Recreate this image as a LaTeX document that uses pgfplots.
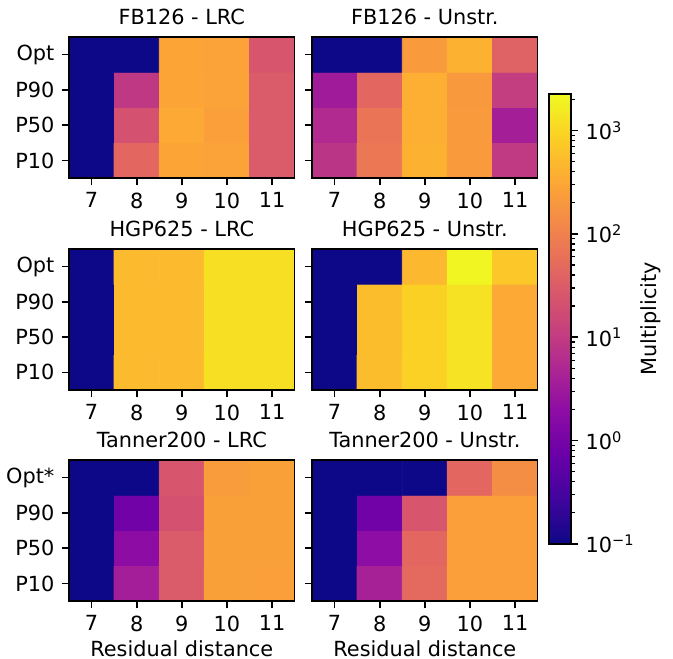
\documentclass[border=0pt]{standalone}
\usepackage{fontspec}
\setmainfont{DejaVu Sans}
\usepackage{pgfplots}
\usepackage{pgfplotstable}
\pgfplotsset{compat=1.18}

% multiplicity per cell: x = residual distance, y = 0 P10, 1 P50, 2 P90, 3 Opt
\pgfplotstableread{
x y m
7 0 0.1
8 0 45
9 0 300
10 0 270
11 0 30
7 1 0.1
8 1 22
9 1 330
10 1 250
11 1 30
7 2 0.1
8 2 9
9 2 300
10 2 280
11 2 30
7 3 0.1
8 3 0.1
9 3 300
10 3 280
11 3 25
}\fbl
\pgfplotstableread{
x y m
7 0 8
8 0 75
9 0 400
10 0 220
11 0 9.5
7 1 5.5
8 1 70
9 1 380
10 1 220
11 1 3.8
7 2 3.3
8 2 45
9 2 380
10 2 210
11 2 11
7 3 0.1
8 3 0.1
9 3 220
10 3 400
11 3 38
}\fbu
\pgfplotstableread{
x y m
7 0 0.1
8 0 500
9 0 500
10 0 1230
11 0 1230
7 1 0.1
8 1 500
9 1 500
10 1 1230
11 1 1230
7 2 0.1
8 2 500
9 2 500
10 2 1230
11 2 1230
7 3 0.1
8 3 500
9 3 500
10 3 1230
11 3 1230
}\hgl
\pgfplotstableread{
x y m
7 0 0.1
8 0 550
9 0 900
10 0 1350
11 0 330
7 1 0.1
8 1 550
9 1 900
10 1 1350
11 1 330
7 2 0.1
8 2 550
9 2 880
10 2 1300
11 2 330
7 3 0.1
8 3 0.1
9 3 480
10 3 2050
11 3 700
}\hgu
\pgfplotstableread{
x y m
7 0 0.1
8 0 3.7
9 0 30
10 0 260
11 0 250
7 1 0.1
8 1 1.9
9 1 30
10 1 260
11 1 260
7 2 0.1
8 2 0.9
9 2 22
10 2 260
11 2 260
7 3 0.1
8 3 0.1
9 3 25
10 3 230
11 3 260
}\tal
\pgfplotstableread{
x y m
7 0 0.1
8 0 4
9 0 48
10 0 250
11 0 250
7 1 0.1
8 1 2
9 1 45
10 1 250
11 1 250
7 2 0.1
8 2 0.9
9 2 25
10 2 250
11 2 250
7 3 0.1
8 3 0.1
9 3 0.1
10 3 45
11 3 150
}\tau

\pgfplotsset{
  colormap={plasma}{rgb255=(13,8,135) rgb255=(65,4,157) rgb255=(106,0,168)
    rgb255=(143,13,164) rgb255=(177,42,144) rgb255=(204,71,120) rgb255=(225,100,98)
    rgb255=(242,132,75) rgb255=(252,166,54) rgb255=(252,206,37) rgb255=(240,249,33)},
  heat/.style={
    scale only axis, width=108.3pt, height=67.7pt,
    anchor=north west,
    xmin=6.5, xmax=11.5, ymin=-0.5, ymax=3.5,
    xtick={7,...,11}, ytick={0,1,2,3},
    tick align=outside, tick pos=left,
    major tick length=3.5pt,
    major tick style={line width=0.8pt, black},
    axis line style={line width=0.8pt},
    colormap name=plasma,
    point meta min=-1, point meta max=3.355,
    axis on top,
    /pgf/number format/assume math mode=true,
    font=\fontsize{10}{12}\selectfont,
    every axis title/.style={at={(0.5,1)}, anchor=base, yshift=5.9pt, inner sep=0pt},
  },
  left col/.style={yticklabels={P10,P50,P90,Opt}},
  right col/.style={yticklabels={}},
  bottom row/.style={xlabel={Residual distance},
    xlabel style={at={(axis description cs:0.5,0)}, anchor=base, yshift=-26.4pt, inner sep=0pt}},
}

\begin{document}
\begin{tikzpicture}
\useasboundingbox (0,0) rectangle (323.04pt,-315.84pt);

\begin{axis}[heat, left col, at={(33.12pt,-17.76pt)}, title={FB126 - LRC}]
\addplot[matrix plot*, mesh/cols=5, point meta=explicit] table[meta expr={log10(\thisrow{m})}] {\fbl};
\end{axis}

\begin{axis}[heat, right col, at={(149.76pt,-17.76pt)}, title={FB126 - Unstr.},
  colorbar,
  colorbar style={
    at={(parent axis.north east)}, anchor=north west, xshift=-3.2pt, yshift=-27.3pt,
    scale only axis, width=10.7pt, height=216pt,
    ytick={-1,0,1,2,3},
    yticklabels={10\textsuperscript{−1},10\textsuperscript{0},10\textsuperscript{1},10\textsuperscript{2},10\textsuperscript{3}},
    minor ytick={-0.699,-0.523,-0.398,-0.301,-0.222,-0.155,-0.097,-0.046,
      0.301,0.477,0.602,0.699,0.778,0.845,0.903,0.954,
      1.301,1.477,1.602,1.699,1.778,1.845,1.903,1.954,
      2.301,2.477,2.602,2.699,2.778,2.845,2.903,2.954,
      3.301},
    tick align=outside,
    ytick pos=right,
    major tick length=3.5pt, minor tick length=2pt,
    major tick style={line width=0.8pt, black},
    minor tick style={line width=0.6pt, black},
    axis line style={line width=0.8pt},
    yticklabel pos=right,
    font=\fontsize{10}{12}\selectfont,
    ylabel={Multiplicity},
    ylabel style={at={(axis description cs:4.093,0.5)}, anchor=north, inner sep=0pt},
  }]
\addplot[matrix plot*, mesh/cols=5, point meta=explicit] table[meta expr={log10(\thisrow{m})}] {\fbu};
\end{axis}

\begin{axis}[heat, left col, at={(33.12pt,-119.5pt)}, title={HGP625 - LRC}]
\addplot[matrix plot*, mesh/cols=5, point meta=explicit] table[meta expr={log10(\thisrow{m})}] {\hgl};
\end{axis}

\begin{axis}[heat, right col, at={(149.76pt,-119.5pt)}, title={HGP625 - Unstr.}]
\addplot[matrix plot*, mesh/cols=5, point meta=explicit] table[meta expr={log10(\thisrow{m})}] {\hgu};
\end{axis}

\begin{axis}[heat, left col, bottom row, at={(33.12pt,-220.8pt)}, title={Tanner200 - LRC},
  yticklabels={P10,P50,P90,Opt*}]
\addplot[matrix plot*, mesh/cols=5, point meta=explicit] table[meta expr={log10(\thisrow{m})}] {\tal};
\end{axis}

\begin{axis}[heat, right col, bottom row, at={(149.76pt,-220.8pt)}, title={Tanner200 - Unstr.}]
\addplot[matrix plot*, mesh/cols=5, point meta=explicit] table[meta expr={log10(\thisrow{m})}] {\tau};
\end{axis}
\end{tikzpicture}
\end{document}
